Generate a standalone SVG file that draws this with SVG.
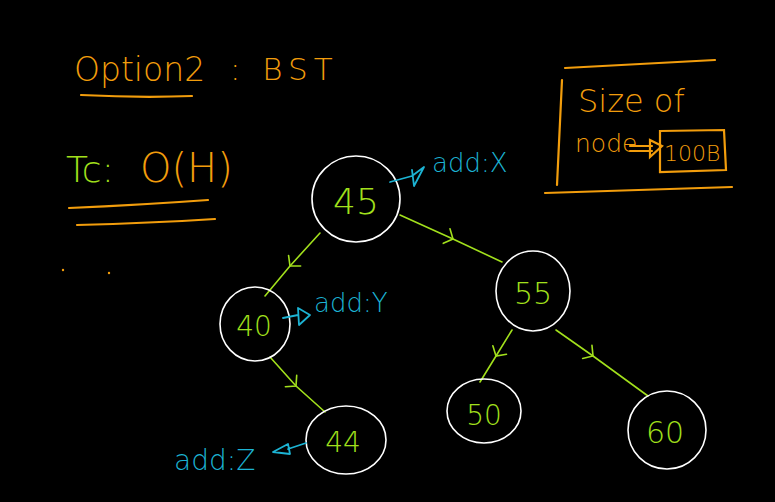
<svg xmlns="http://www.w3.org/2000/svg" width="775" height="502" viewBox="0 0 775 502">
<style>
.or{stroke:#f29d0c;fill:none;stroke-width:2.2;stroke-linecap:round}
.gr{stroke:#a2e01c;fill:none;stroke-width:1.6;stroke-linecap:round}
.cy{stroke:#1cb3d3;fill:none;stroke-width:1.8;stroke-linecap:round;stroke-linejoin:round}
.nd{stroke:#ffffff;fill:none;stroke-width:1.6}
.t{font-family:"DejaVu Sans","Liberation Sans",sans-serif;font-weight:300}
.to{fill:#f29d0c}
.tg{fill:#a2e01c}
.tc{fill:#1cb3d3}
</style>
<defs>
<marker id="chev" viewBox="-10 -10 20 20" markerWidth="20" markerHeight="20" refX="0" refY="0" orient="auto" markerUnits="userSpaceOnUse">
<path d="M-7,-8 L0,0 L-7,8" fill="none" stroke="#a2e01c" stroke-width="1.6" stroke-linecap="round"/>
</marker>
</defs>
<rect width="775" height="502" fill="#000"/>
<g id="title">
<text class="t to" x="74" y="81" font-size="33">Option2</text>
<path class="or" d="M81,95 Q140,98 192,96"/>
<text class="t to" x="230" y="80" font-size="31" letter-spacing="6">: BST</text>
</g>
<g id="complexity">
<text class="t tg" x="66" y="182" font-size="36">Tc:</text>
<text class="t to" x="140" y="182" font-size="40">O(H)</text>
<path class="or" d="M69,208 Q140,205 208,200"/>
<path class="or" d="M77,225 Q150,223 215,219"/>
<circle cx="63" cy="270" r="1.2" fill="#f29d0c"/>
<circle cx="109" cy="273" r="1.2" fill="#f29d0c"/>
</g>
<g id="size-box">
<path class="or" d="M565,68 L715,60"/>
<path class="or" d="M562,80 L557,185"/>
<path class="or" d="M545,193 L732,187"/>
<text class="t to" x="578" y="112" font-size="32">Size of</text>
<text class="t to" x="575" y="152" font-size="25">node</text>
<path class="or" d="M630,146 L652,146 M630,151 L652,151 M650,140 L662,146 L650,157 Z" stroke-width="1.6"/>
<path class="or" d="M660,131 L724,130 L726,170 L660,172 Z" stroke-width="1.6"/>
<text class="t to" x="664" y="161" font-size="22">100B</text>
</g>
<g id="connectors">
<path class="gr" d="M320,233 L290,266 L265,296" marker-mid="url(#chev)"/>
<path class="gr" d="M400,215 L453,239 L502,262" marker-mid="url(#chev)"/>
<path class="gr" d="M270,357 L296,386 L325,412" marker-mid="url(#chev)"/>
<path class="gr" d="M512,330 L496,356 L480,382" marker-mid="url(#chev)"/>
<path class="gr" d="M556,330 L593,356 L648,396" marker-mid="url(#chev)"/>
</g>
<g id="node-45">
<ellipse class="nd" cx="356" cy="199" rx="44" ry="43"/>
<text class="t tg" x="356" y="214" font-size="36" text-anchor="middle">45</text>
</g>
<g id="annot-x">
<path class="cy" d="M390,182 L412,176 M412,176 L424,167 L414,186 L412,170"/>
<text class="t tc" x="432" y="172" font-size="26">add:X</text>
</g>
<g id="node-40">
<ellipse class="nd" cx="255" cy="324" rx="35" ry="37"/>
<text class="t tg" x="254" y="336" font-size="28" text-anchor="middle">40</text>
</g>
<g id="annot-y">
<path class="cy" d="M283,318 L298,315 M298,308 L310,315 L299,325 Z"/>
<text class="t tc" x="314" y="312" font-size="26">add:Y</text>
</g>
<g id="node-44">
<ellipse class="nd" cx="346" cy="440" rx="40" ry="34"/>
<text class="t tg" x="343" y="452" font-size="28" text-anchor="middle">44</text>
</g>
<g id="annot-z">
<path class="cy" d="M306,443 L288,449 M288,444 L273,452 L290,454 Z"/>
<text class="t tc" x="174" y="470" font-size="28">add:Z</text>
</g>
<g id="node-55">
<ellipse class="nd" cx="533" cy="291" rx="37" ry="40"/>
<text class="t tg" x="533" y="304" font-size="30" text-anchor="middle">55</text>
</g>
<g id="node-50">
<ellipse class="nd" cx="484" cy="411" rx="37" ry="32"/>
<text class="t tg" x="484" y="425" font-size="28" text-anchor="middle">50</text>
</g>
<g id="node-60">
<ellipse class="nd" cx="667" cy="430" rx="39" ry="39"/>
<text class="t tg" x="665" y="443" font-size="30" text-anchor="middle">60</text>
</g>
</svg>
